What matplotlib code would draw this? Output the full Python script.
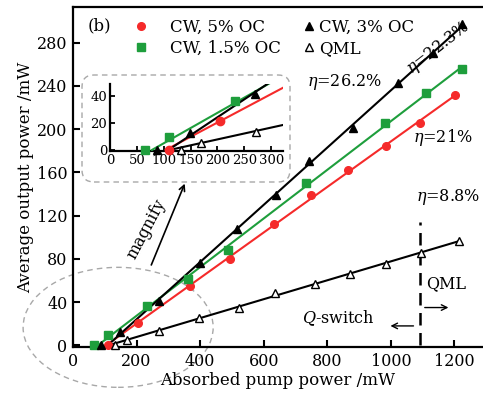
import matplotlib
matplotlib.use("Agg")
import matplotlib.pyplot as plt
from matplotlib.patches import Ellipse, FancyBboxPatch
import numpy as np

plt.rcParams["font.family"] = ["DejaVu Serif"]
plt.rcParams["mathtext.fontset"] = "dejavuserif"

# data (absorbed pump power mW, output power mW)
cw5_x = [110, 204, 368, 494, 631, 748, 866, 986, 1093, 1203]
cw5_y = [0, 21, 55, 80, 112, 139, 162, 184, 206, 232]

cw15_x = [65, 110, 233, 363, 489, 732, 983, 1112, 1225]
cw15_y = [0, 9.5, 36, 61, 88, 150, 206, 233, 256]

cw3_x = [88, 148, 270, 400, 516, 639, 741, 880, 1024, 1134, 1225]
cw3_y = [0, 12.5, 41, 76, 108, 139, 171, 201, 243, 270, 297]

qml_x = [132, 169, 272, 395, 521, 634, 762, 870, 986, 1095, 1214]
qml_y = [0, 5, 13.5, 25, 35, 48, 57, 66, 75.5, 85.5, 97]

x_ticks = [0, 200, 400, 600, 800, 1000, 1200]
y_ticks = [0, 40, 80, 120, 160, 200, 240, 280]
inset_x_ticks = [0, 50, 100, 150, 200, 250, 300]
inset_y_ticks = [0, 20, 40]

RED = "#f52a2a"
GREEN = "#1e9e3c"
BLACK = "black"

series = [
    (cw5_x, cw5_y, RED, "o", RED, "CW, 5% OC"),
    (cw15_x, cw15_y, GREEN, "s", GREEN, "CW, 1.5% OC"),
    (cw3_x, cw3_y, BLACK, "^", BLACK, "CW, 3% OC"),
    (qml_x, qml_y, BLACK, "^", "white", "QML"),
]


def fit_line(xs, ys):
    xs = np.asarray(xs, float)
    ys = np.asarray(ys, float)
    m = ys > 0
    k, b = np.polyfit(xs[m], ys[m], 1)
    return k, b


fig = plt.figure(figsize=(4.83, 4.01), dpi=100)
ax = fig.add_axes([73 / 483, 54 / 401, 1 - 73 / 483, 340 / 401])

handles = []
for xs, ys, col, mk, fc, lab in series:
    k, b = fit_line(xs, ys)
    x0 = -b / k
    xl = np.array([x0, max(xs)])
    ax.plot(xl, k * xl + b, color=col, lw=1.5, zorder=3)
    h, = ax.plot(xs, ys, ls="none", marker=mk, ms=5.5, mfc=fc, mec=col,
                 mew=1.0, label=lab, zorder=4, clip_on=False)
    handles.append(h)

ax.set_xlim(0, 1290)
ax.set_ylim(-1.5, 313)
ax.set_xticks(x_ticks)
ax.set_yticks(y_ticks)
ax.tick_params(direction="in", length=5, width=1.5, labelsize=11.5, pad=4)
for s in ["left", "bottom", "top"]:
    ax.spines[s].set_linewidth(1.6)
ax.spines["right"].set_visible(False)
ax.set_xlabel("Absorbed pump power /mW", fontsize=12, labelpad=2)
ax.set_ylabel("Average output power /mW", fontsize=12, labelpad=2)

leg1 = ax.legend(handles=handles[:2], loc="upper left", bbox_to_anchor=(0.118, 1.0),
                 frameon=False, fontsize=12, handlelength=1.0, handletextpad=1.2,
                 labelspacing=0.25, borderaxespad=0.3)
ax.add_artist(leg1)
ax.legend(handles=handles[2:], loc="upper left", bbox_to_anchor=(0.536, 1.0),
          frameon=False, fontsize=12, handlelength=0.6, handletextpad=0.3,
          labelspacing=0.25, borderaxespad=0.3)
ax.text(47, 296, "(b)", fontsize=12, va="center")

# efficiency labels
ax.text(735, 244, r"$\eta$=26.2%", fontsize=11.5, va="center", ha="left")
ax.text(1150, 275, r"$\eta$=22.3%", fontsize=11.5, va="center", ha="center", rotation=38)
ax.text(1070, 192, r"$\eta$=21%", fontsize=11.5, va="center", ha="left")
ax.text(1080, 137, r"$\eta$=8.8%", fontsize=11.5, va="center", ha="left")

# QML / Q-switch boundary
ax.plot([1093, 1093], [0, 114], color="black", lw=1.8, ls=(0, (5, 3)), zorder=2)
ax.text(1112, 57, "QML", fontsize=11.5, va="center", ha="left")
ax.annotate("", xy=(1190, 35), xytext=(1098, 35),
            arrowprops=dict(arrowstyle="->", lw=1.0, color="black"))
ax.text(720, 25, r"$Q$-switch", fontsize=11.5, va="center", ha="left")
ax.annotate("", xy=(990, 18), xytext=(1080, 18),
            arrowprops=dict(arrowstyle="->", lw=1.0, color="black"))

# magnify marks
ax.add_patch(Ellipse((142, 16.7), 598, 111, fill=False, ec="#a8a8a8", lw=1.0,
                     ls=(0, (4, 3)), clip_on=False, zorder=1))
ax.annotate("", xy=(355, 152), xytext=(243, 72),
            arrowprops=dict(arrowstyle="->", lw=1.2, color="black"))
ax.text(232, 108, "magnify", fontsize=11.5, rotation=62, va="center", ha="center")

fig.add_artist(FancyBboxPatch((0.82, 2.19), 2.08, 1.07,
                              boxstyle="round,pad=0,rounding_size=0.12",
                              transform=fig.dpi_scale_trans, fill=False,
                              ec="#a8a8a8", lw=1.0, ls=(0, (4, 3))))

# inset
ix_max, iy_max = 322, 48.7
axi = fig.add_axes([110 / 483, 250 / 401, 173 / 483, 67 / 401])
for xs, ys, col, mk, fc, lab in series:
    k, b = fit_line(xs, ys)
    x0 = -b / k
    xl = np.array([x0, 330])
    axi.plot(xl, k * xl + b, color=col, lw=1.5, zorder=3)
    xa = np.asarray(xs, float)
    ya = np.asarray(ys, float)
    keep = (xa <= ix_max) & (ya <= iy_max - 2)
    axi.plot(xa[keep], ya[keep], ls="none", marker=mk, ms=6, mfc=fc, mec=col,
             mew=1.0, zorder=4, clip_on=False)
axi.set_xlim(0, ix_max)
axi.set_ylim(-0.8, iy_max)
axi.set_xticks(inset_x_ticks)
axi.set_yticks(inset_y_ticks)
axi.tick_params(direction="in", length=3.5, width=1.3, labelsize=9.5, pad=2)
axi.spines["top"].set_visible(False)
axi.spines["right"].set_visible(False)
for s in ["left", "bottom"]:
    axi.spines[s].set_linewidth(1.6)
axi.patch.set_alpha(0)

fig.savefig("out.png", dpi=100)
